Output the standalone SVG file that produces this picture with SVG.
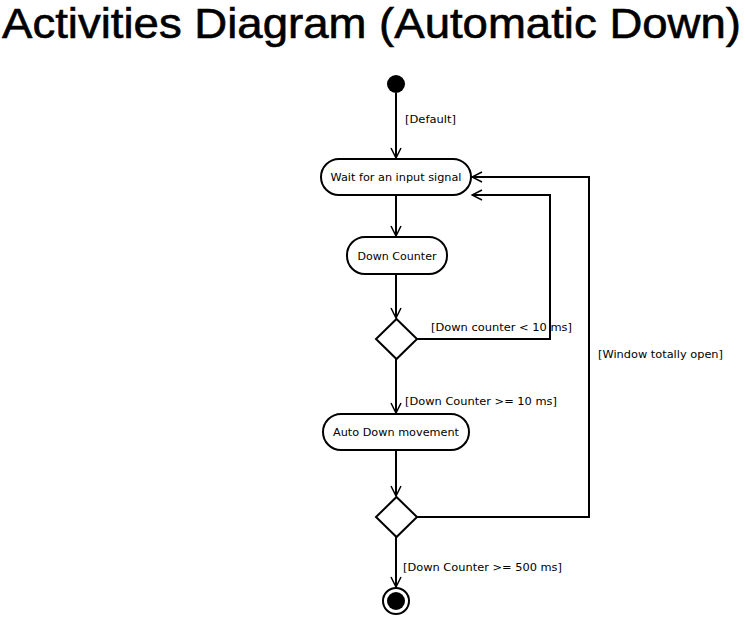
<svg xmlns="http://www.w3.org/2000/svg" width="745" height="619" viewBox="0 0 745 619">
<defs>
<style>
.title{font-family:"Liberation Sans",Arial,sans-serif;font-size:42px;fill:#000;stroke:#000;stroke-width:0.6}
.lbl{font-family:"DejaVu Sans","Liberation Sans",sans-serif;font-size:11px;fill:#000}
.node{fill:#fff;stroke:#000;stroke-width:2}
.edge{fill:none;stroke:#000;stroke-width:2}
</style>
<marker id="arr" viewBox="0 0 12 12" refX="11" refY="6" markerWidth="12" markerHeight="12" markerUnits="userSpaceOnUse" orient="auto">
<path d="M1,1 L11,6 L1,11" fill="none" stroke="#000" stroke-width="1.5"/>
</marker>
</defs>
<rect width="745" height="619" fill="#fff"/>
<text class="title" x="2" y="38" textLength="739" lengthAdjust="spacingAndGlyphs">Activities Diagram (Automatic Down)</text>

<g id="connectors">
<path class="edge" d="M396,93 L396,158" marker-end="url(#arr)"/>
<text class="lbl" x="405" y="123" textLength="51" lengthAdjust="spacingAndGlyphs">[Default]</text>
<path class="edge" d="M396,195 L396,236" marker-end="url(#arr)"/>
<path class="edge" d="M396,274 L396,318" marker-end="url(#arr)"/>
<path class="edge" d="M417,339 L550,339 L550,195 L472,195" marker-end="url(#arr)"/>
<text class="lbl" x="431" y="331" textLength="141" lengthAdjust="spacingAndGlyphs">[Down counter &lt; 10 ms]</text>
<path class="edge" d="M396,359 L396,413" marker-end="url(#arr)"/>
<text class="lbl" x="405" y="405" textLength="152" lengthAdjust="spacingAndGlyphs">[Down Counter &gt;= 10 ms]</text>
<path class="edge" d="M396,450 L396,496" marker-end="url(#arr)"/>
<path class="edge" d="M417,517 L589,517 L589,177 L472,177" marker-end="url(#arr)"/>
<text class="lbl" x="598" y="358" textLength="125" lengthAdjust="spacingAndGlyphs">[Window totally open]</text>
<path class="edge" d="M396,537 L396,587" marker-end="url(#arr)"/>
<text class="lbl" x="403" y="571" textLength="159" lengthAdjust="spacingAndGlyphs">[Down Counter &gt;= 500 ms]</text>
</g>

<g id="start">
<circle cx="396" cy="84" r="9" fill="#000"/>
</g>
<g id="wait">
<rect class="node" x="321" y="159" width="150" height="36" rx="18" ry="18"/>
<text class="lbl" x="396" y="181" text-anchor="middle" textLength="131" lengthAdjust="spacingAndGlyphs">Wait for an input signal</text>
</g>
<g id="downCounter">
<rect class="node" x="347" y="237" width="100" height="37" rx="18" ry="18"/>
<text class="lbl" x="397" y="260" text-anchor="middle" textLength="79" lengthAdjust="spacingAndGlyphs">Down Counter</text>
</g>
<g id="decision1">
<polygon class="node" points="396.5,319 417,339 396.5,359 376,339"/>
</g>
<g id="autoDown">
<rect class="node" x="323" y="414" width="146" height="36" rx="18" ry="18"/>
<text class="lbl" x="396" y="436" text-anchor="middle" textLength="126" lengthAdjust="spacingAndGlyphs">Auto Down movement</text>
</g>
<g id="decision2">
<polygon class="node" points="396.5,497 417,517 396.5,537 376,517"/>
</g>
<g id="end">
<circle cx="396" cy="601" r="13" fill="#fff" stroke="#000" stroke-width="2"/>
<circle cx="396" cy="601" r="9" fill="#000"/>
</g>
</svg>
